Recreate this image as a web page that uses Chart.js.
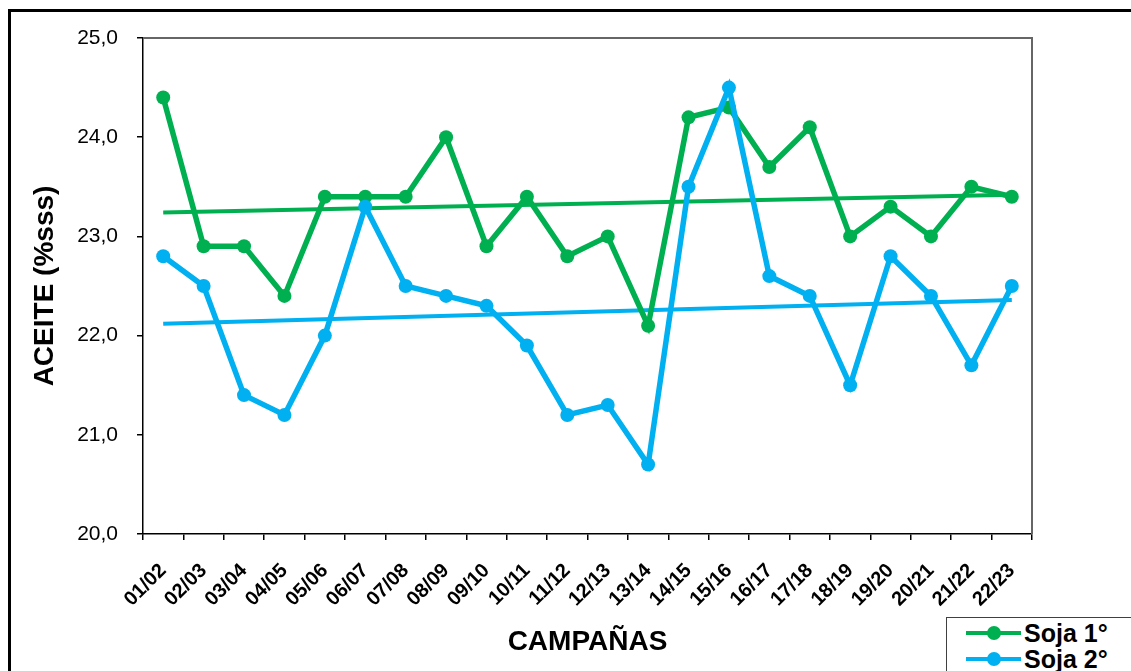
<!DOCTYPE html>
<html lang="es">
<head>
<meta charset="utf-8">
<title>Aceite - Soja 1° y Soja 2°</title>
<script src="https://cdn.jsdelivr.net/npm/chart.js@4.4.1/dist/chart.umd.min.js"></script>
<style>
  html, body { margin: 0; padding: 0; background: #fff; overflow: hidden; }
  #wrap { position: relative; width: 1131px; height: 671px; }
  #frame {
    position: absolute; left: 8px; top: 9px; width: 1200px; height: 800px;
    border: 3px solid #000; box-sizing: border-box;
  }
  #chart { position: absolute; left: 0; top: 0; }
  #legend {
    position: absolute; left: 946px; top: 617px; width: 260px; height: 80px;
    border: 1.5px solid #404040; background: #fff; box-sizing: border-box;
    font: bold 25px "Liberation Sans", Arial, sans-serif; color: #000;
  }
  .entry { position: absolute; left: 19px; height: 26px; display: flex; align-items: center; }
  .sample { position: relative; width: 55px; height: 4px; margin-right: 3px; }
  .sample i {
    position: absolute; left: 21px; top: -5px; width: 14px; height: 14px; border-radius: 50%;
  }
</style>
</head>
<body>
<div id="wrap">
  <div id="frame"></div>
  <canvas id="chart" width="1131" height="671"></canvas>
  <div id="legend"></div>
</div>
<script>
  // Campañas (eje X)
  const campaigns = [
    '01/02', '02/03', '03/04', '04/05', '05/06', '06/07', '07/08', '08/09',
    '09/10', '10/11', '11/12', '12/13', '13/14', '14/15', '15/16', '16/17',
    '17/18', '18/19', '19/20', '20/21', '21/22', '22/23',
  ];

  // Aceite (% sss)
  const soja1 = [
    24.4, 22.9, 22.9, 22.4, 23.4, 23.4, 23.4, 24.0, 22.9, 23.4, 22.8,
    23.0, 22.1, 24.2, 24.3, 23.7, 24.1, 23.0, 23.3, 23.0, 23.5, 23.4,
  ];
  const soja2 = [
    22.8, 22.5, 21.4, 21.2, 22.0, 23.3, 22.5, 22.4, 22.3, 21.9, 21.2,
    21.3, 20.7, 23.5, 24.5, 22.6, 22.4, 21.5, 22.8, 22.4, 21.7, 22.5,
  ];

  // Líneas de tendencia: valor inicial y final
  const trendSoja1 = [23.24, 23.42];
  const trendSoja2 = [22.12, 22.36];

  // Eje Y
  const yMin = 20;
  const yMax = 25;
  const yStep = 1;

  const GREEN = '#00b050';
  const BLUE = '#00b0f0';
  const FONT = '"Liberation Sans", Arial, sans-serif';

  Chart.defaults.font.family = FONT;
  Chart.defaults.color = '#000';

  function trendPoints(ends) {
    return [
      { x: campaigns[0], y: ends[0] },
      { x: campaigns[campaigns.length - 1], y: ends[1] },
    ];
  }

  // Borde gris superior y derecho del área de trazado
  const plotFrame = {
    id: 'plotFrame',
    beforeDatasetsDraw(chart) {
      const a = chart.chartArea;
      const ctx = chart.ctx;
      ctx.save();
      ctx.strokeStyle = '#666';
      ctx.lineWidth = 2;
      ctx.beginPath();
      ctx.moveTo(a.left, a.top);
      ctx.lineTo(a.right, a.top);
      ctx.lineTo(a.right, a.bottom);
      ctx.stroke();
      ctx.restore();
    },
  };

  const series = [
    { label: 'Soja 1°', data: soja1, color: GREEN, order: 2 },
    { label: 'Soja 2°', data: soja2, color: BLUE, order: 1 },
  ];

  new Chart(document.getElementById('chart'), {
    type: 'line',
    data: {
      labels: campaigns,
      datasets: [
        ...series.map((s) => ({
          label: s.label,
          data: s.data,
          order: s.order,
          borderColor: s.color,
          backgroundColor: s.color,
          borderWidth: 5.5,
          pointRadius: 7,
          pointBorderWidth: 0,
          pointBackgroundColor: s.color,
          tension: 0,
        })),
        {
          label: 'Tendencia Soja 1°',
          data: trendPoints(trendSoja1),
          order: 4,
          borderColor: GREEN,
          borderWidth: 4,
          pointRadius: 0,
        },
        {
          label: 'Tendencia Soja 2°',
          data: trendPoints(trendSoja2),
          order: 3,
          borderColor: BLUE,
          borderWidth: 4,
          pointRadius: 0,
        },
      ],
    },
    options: {
      responsive: false,
      animation: false,
      layout: { padding: { left: 0, top: 38, right: 99, bottom: 0 } },
      plugins: {
        legend: { display: false },
        tooltip: { enabled: false },
      },
      scales: {
        x: {
          type: 'category',
          offset: true,
          border: { color: '#000', width: 1.5 },
          grid: {
            offset: true,
            drawOnChartArea: false,
            drawTicks: true,
            tickLength: 6,
            color: '#000',
            lineWidth: 1.5,
          },
          ticks: {
            autoSkip: false,
            minRotation: 45,
            maxRotation: 45,
            padding: 19,
            color: '#000',
            font: { size: 20, weight: 'bold' },
          },
          title: {
            display: true,
            text: 'CAMPAÑAS',
            color: '#000',
            font: { size: 28, weight: 'bold' },
            padding: { top: 0, bottom: 12 },
          },
          afterFit(scale) { scale.height = 137; },
        },
        y: {
          min: yMin,
          max: yMax,
          border: { color: '#000', width: 1.5 },
          grid: {
            drawOnChartArea: false,
            drawTicks: true,
            tickLength: 6,
            color: '#000',
            lineWidth: 1.5,
          },
          ticks: {
            stepSize: yStep,
            padding: 19,
            color: '#000',
            font: { size: 21 },
            callback: (v) => v.toFixed(1).replace('.', ','),
          },
          title: {
            display: true,
            text: 'ACEITE (%sss)',
            color: '#000',
            font: { size: 28, weight: 'bold' },
            padding: { top: 28, bottom: 0 },
          },
          afterFit(scale) { scale.width = 143; },
        },
      },
    },
    plugins: [plotFrame],
  });

  // Leyenda (solo las dos series)
  const legend = document.getElementById('legend');
  series.forEach((s, i) => {
    const row = document.createElement('div');
    row.className = 'entry';
    row.style.top = (2 + i * 26) + 'px';
    row.innerHTML =
      '<span class="sample" style="background:' + s.color + '">' +
      '<i style="background:' + s.color + '"></i></span>' +
      '<span>' + s.label + '</span>';
    legend.appendChild(row);
  });
</script>
</body>
</html>
